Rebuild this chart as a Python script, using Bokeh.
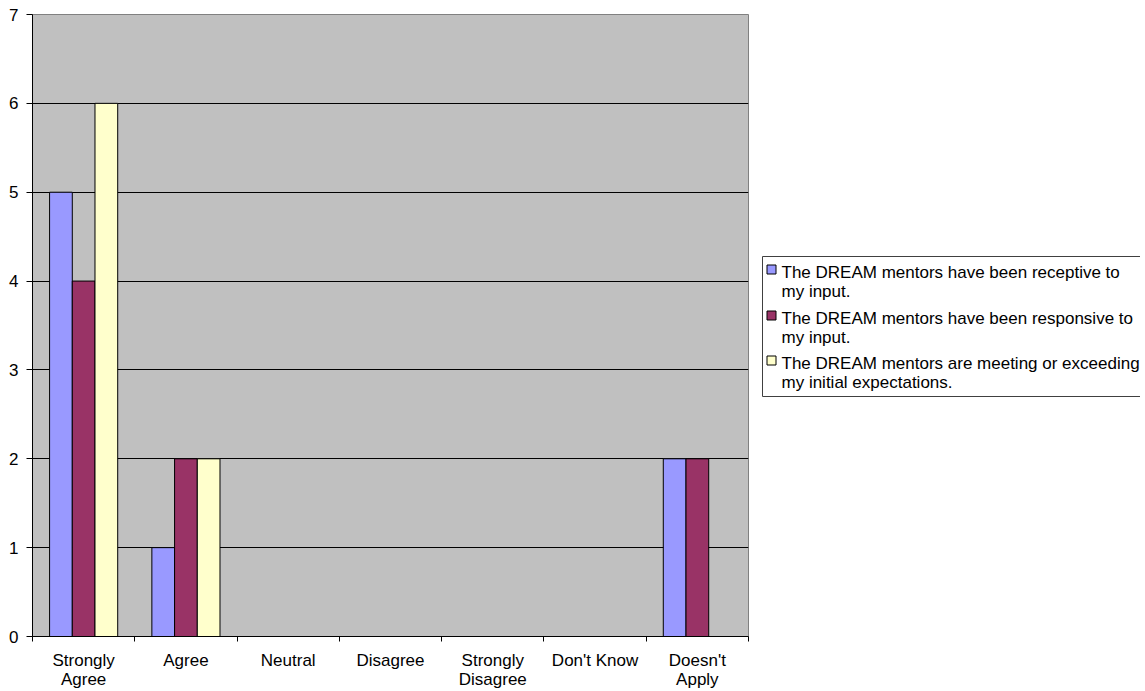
from bokeh.plotting import figure
from bokeh.models import Range1d, FixedTicker, ColumnDataSource
from bokeh.layouts import row
from bokeh.embed import file_html
from bokeh.resources import INLINE
from bokeh.core.properties import value

categories = ["Strongly\nAgree", "Agree", "Neutral", "Disagree", "Strongly\nDisagree", "Don't Know", "Doesn't\nApply"]
series_names = [
    "The DREAM mentors have been receptive to\nmy input.",
    "The DREAM mentors have been responsive to\nmy input.",
    "The DREAM mentors are meeting or exceeding\nmy initial expectations.",
]
receptive = [5, 1, 0, 0, 0, 0, 2]
responsive = [4, 2, 0, 0, 0, 0, 2]
expectations = [6, 2, 0, 0, 0, 0, 0]
colors = ["#9999FF", "#993366", "#FFFFCC"]
y_ticks = [0, 1, 2, 3, 4, 5, 6, 7]

FONT = "Liberation Sans"
FS = "17px"
n = len(categories)
bar_w = 0.222
offsets = [-bar_w, 0.0, bar_w]

p = figure(width=756, height=691, output_backend="svg", toolbar_location=None,
           x_range=Range1d(0, n), y_range=Range1d(0, 7),
           min_border_left=32, min_border_right=8, min_border_top=14, min_border_bottom=55)
p.background_fill_color = "#C0C0C0"
p.border_fill_color = "white"
p.outline_line_color = "#808080"
p.outline_line_width = 1

for vals, off, col in zip([receptive, responsive, expectations], offsets, colors):
    xs = [i + 0.5 + off for i, v in enumerate(vals) if v > 0]
    tops = [v for v in vals if v > 0]
    src = ColumnDataSource(dict(x=xs, top=tops))
    p.vbar(x="x", top="top", bottom=0, width=bar_w, source=src,
           fill_color=col, line_color="black", line_width=1)

centers = [i + 0.5 for i in range(n)]
p.xaxis.ticker = FixedTicker(ticks=centers, minor_ticks=list(range(n + 1)))
p.xaxis.major_label_overrides = {c: lab for c, lab in zip(centers, categories)}
p.xaxis.major_tick_out = 0
p.xaxis.major_tick_in = 0
p.xaxis.minor_tick_out = 5
p.xaxis.minor_tick_in = 0
p.xaxis.minor_tick_line_color = "black"
p.xaxis.axis_line_color = "black"
p.xaxis.major_label_text_font = FONT
p.xaxis.major_label_text_font_size = FS
p.xaxis.major_label_text_color = "black"
p.xaxis.major_label_text_line_height = 1.0
p.xaxis.major_label_standoff = 9

p.yaxis.ticker = FixedTicker(ticks=y_ticks)
p.yaxis.major_tick_out = 6
p.yaxis.major_tick_in = 0
p.yaxis.minor_tick_line_color = None
p.yaxis.axis_line_color = "black"
p.yaxis.major_label_text_font = FONT
p.yaxis.major_label_text_font_size = FS
p.yaxis.major_label_text_color = "black"
p.yaxis.major_label_standoff = 8

p.xgrid.grid_line_color = None
p.ygrid.ticker = FixedTicker(ticks=y_ticks[1:-1])
p.ygrid.grid_line_color = "black"
p.ygrid.grid_line_width = 1

# legend panel: its frame is aligned with the main frame (screen y 14..636),
# so the range is set so that coordinates read as page pixels, y downwards
lg = figure(width=384, height=691, output_backend="svg", toolbar_location=None,
            x_range=Range1d(0, 384), y_range=Range1d(636, 14),
            min_border_left=0, min_border_right=0, min_border_top=14, min_border_bottom=55)
lg.axis.visible = False
lg.grid.visible = False
lg.outline_line_color = None
lg.background_fill_color = "white"
lg.border_fill_color = "white"

lg.quad(left=[6], right=[420], top=[256], bottom=[396],
        fill_color="white", line_color="#404040", line_width=1)
first_line_centers = [271, 317, 362]
lg.rect(x=[15] * 3, y=[c - 2 for c in first_line_centers], width=9, height=9,
        fill_color=colors, line_color="black", line_width=1)
lg.text(x=[25] * 3, y=[c - 9 for c in first_line_centers], text=series_names,
        text_font=value(FONT), text_font_size=FS, text_color="black",
        text_baseline="top", text_align="left", text_line_height=1.0)

layout = row(p, lg)
open("out.html", "w").write(file_html(layout, INLINE))
